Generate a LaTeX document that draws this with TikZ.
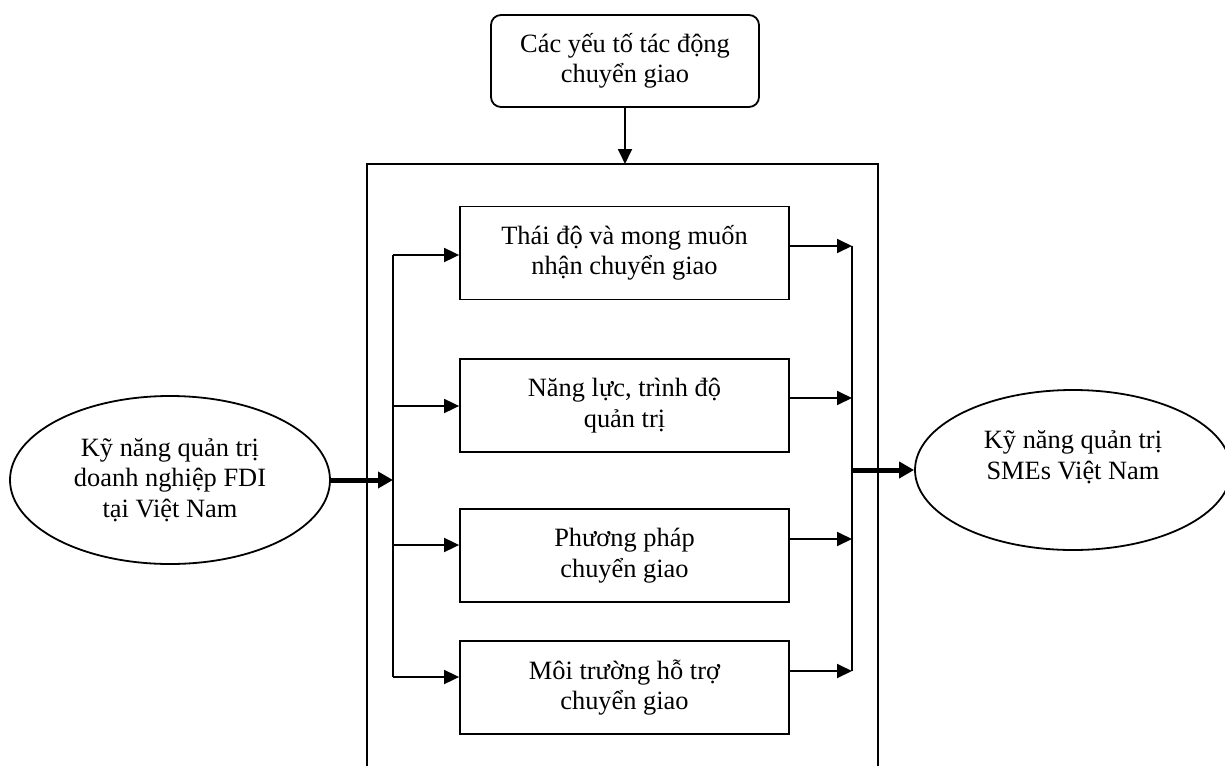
\documentclass[tikz,border=0pt]{standalone}
\usepackage{fontspec}
\setmainfont{Liberation Serif}
\usetikzlibrary{arrows.meta,shapes.geometric}
\begin{document}
\begin{tikzpicture}[x=1pt,y=-1pt,
  font=\fontsize{26.4}{30.4}\selectfont,
  thinline/.style={line width=1.8pt},
  thickline/.style={line width=5pt},
  arr/.style={thinline,-{Triangle[length=15pt,width=14pt]}},
  bigarr/.style={thickline,-{Triangle[length=15pt,width=16pt]}},
  stepbox/.style={draw,thinline,rectangle,minimum width=329pt,minimum height=93pt,align=center,inner sep=0pt},
  topbox/.style={draw,thinline,rectangle,rounded corners=10pt,minimum width=268pt,minimum height=92pt,align=center,inner sep=0pt},
  oval/.style={draw,thinline,ellipse,inner sep=0pt,align=center}
]
\useasboundingbox (0,0) rectangle (1225,765);

% frame
\draw[thinline] (367,770) -- (367,164) -- (878,164) -- (878,770);
\coordinate (frametop) at (625,164);

\node[topbox] (top) at (625,61) {Các yếu tố tác động\\chuyển giao};

\node[stepbox] (b1) at (624.5,253) {Thái độ và mong muốn\\nhận chuyển giao};
\node[stepbox] (b2) at (624.5,405.5) {Năng lực, trình độ\\quản trị};
\node[stepbox] (b3) at (624.5,555.5) {Phương pháp\\chuyển giao};
\node[stepbox] (b4) at (624.5,687.5) {Môi trường hỗ trợ\\chuyển giao};

\node[oval,minimum width=320pt,minimum height=168pt] (l) at (170,480) {Kỹ năng quản trị\\doanh nghiệp FDI\\tại Việt Nam};
\node[oval,minimum width=316pt,minimum height=160pt] (r) at (1073,470) {Kỹ năng quản trị\\SMEs Việt Nam\\\mbox{}};

% left spine
\coordinate (la1) at (393,255);
\coordinate (la2) at (393,406);
\coordinate (la3) at (393,545);
\coordinate (la4) at (393,677);
\coordinate (lin) at (393,480);
\draw[thinline] (la1) -- (la4);
\draw[arr] (la1) -- (la1 -| b1.west);
\draw[arr] (la2) -- (la2 -| b2.west);
\draw[arr] (la3) -- (la3 -| b3.west);
\draw[arr] (la4) -- (la4 -| b4.west);

% right spine
\coordinate (ra1) at (852,246);
\coordinate (ra2) at (852,398);
\coordinate (ra3) at (852,539);
\coordinate (ra4) at (852,671);
\coordinate (rout) at (852,470);
\draw[thinline] (ra1) -- (ra4);
\draw[arr] (ra1 -| b1.east) -- (ra1);
\draw[arr] (ra2 -| b2.east) -- (ra2);
\draw[arr] (ra3 -| b3.east) -- (ra3);
\draw[arr] (ra4 -| b4.east) -- (ra4);

% main arrows
\draw[arr] (top.south) -- (frametop);
\draw[bigarr] (l.east) -- (lin);
\draw[bigarr] (rout) -- (r.west);
\end{tikzpicture}
\end{document}
